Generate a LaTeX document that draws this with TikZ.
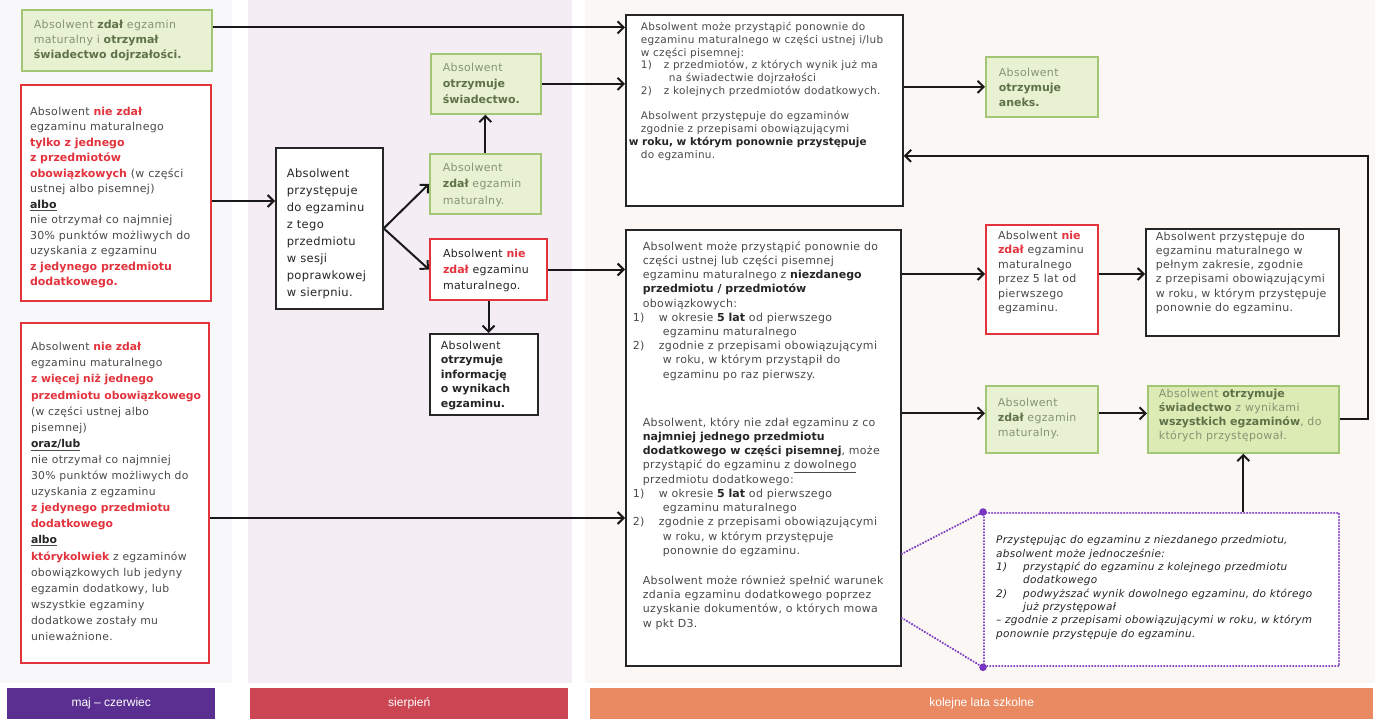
\documentclass[tikz,border=0pt]{standalone}
\usepackage{fontspec}
\setmainfont{DejaVu Sans}[UprightFeatures={LetterSpace=3},ItalicFeatures={LetterSpace=3}]
\newfontfamily\barfont{Liberation Sans}
\usetikzlibrary{arrows.meta}

\definecolor{gfill}{HTML}{E8F2D2}
\definecolor{gfillB}{HTML}{DCEBB4}
\definecolor{gborder}{HTML}{A2C576}
\definecolor{rborder}{HTML}{E3343E}
\definecolor{rtext}{HTML}{E3343E}
\definecolor{btext}{HTML}{262626}
\definecolor{ntext}{HTML}{4A4A4A}
\definecolor{gtext}{HTML}{869474}
\definecolor{gbold}{HTML}{5F7148}
\definecolor{purp}{HTML}{7A35C0}
\definecolor{barA}{HTML}{5B2E91}
\definecolor{barB}{HTML}{CB4552}
\definecolor{barC}{HTML}{E98A63}
\definecolor{colA}{HTML}{F8F7F9}
\definecolor{colB}{HTML}{F4EEF4}
\definecolor{colC}{HTML}{FBF7F5}

\newcommand{\fsz}[2]{\fontsize{#1}{#2}\selectfont}
\newcommand{\bt}[5]{\parbox[c][#2pt][t]{#1pt}{\vspace*{#3pt}\hspace*{#4pt}\begin{tabular}[t]{@{}l@{}}#5\end{tabular}}}
\newcommand{\rdx}[1]{{\bfseries\color{rtext}#1}}
\newcommand{\bfx}[1]{{\bfseries\color{btext}#1}}
\newcommand{\gbx}[1]{{\bfseries\color{gbold}#1}}

\tikzset{
 bx/.style={draw, line width=1.7pt, inner sep=0pt, anchor=north west, fill=white, text=ntext},
 blk/.style={bx, draw=black!85},
 rbox/.style={bx, draw=rborder, line width=2pt},
 gbox/.style={bx, draw=gborder, fill=gfill, text=gtext},
 gboxB/.style={gbox, fill=gfillB},
 pbox/.style={bx, draw=purp, line width=2.3pt, dash pattern=on 0.1pt off 2.9pt, line cap=round, text=btext},
 arr/.style={draw=black!90, line width=2pt, -{Straight Barb[length=6pt,width=12pt]}},
 dots/.style={draw=purp, line width=2.3pt, dash pattern=on 0.1pt off 2.9pt, line cap=round},
 barn/.style={anchor=north west, inner sep=0pt, text=white, font=\barfont\fsz{12}{14}},
}

\begin{document}
\begin{tikzpicture}[x=1pt,y=-1pt]
\useasboundingbox (0,0) rectangle (1375,723);
\fill[white] (0,0) rectangle (1375,723);
\fill[colA] (0,0) rectangle (232,683);
\fill[colB] (248,0) rectangle (572,683);
\fill[colC] (585,0) rectangle (1375,683);

% left column
\node[gbox, font=\fsz{11}{15}] (gA) at (21,9) {\bt{190}{61}{8.5}{12}{%
Absolwent \gbx{zdał} egzamin\\
maturalny i \gbx{otrzymał}\\
\gbx{świadectwo dojrzałości.}}};

\node[rbox, font=\fsz{11}{15.5}] (r1) at (20,84) {\bt{190}{216}{19.5}{9}{%
Absolwent \rdx{nie zdał}\\
egzaminu maturalnego\\
\rdx{tylko z jednego}\\
\rdx{z przedmiotów}\\
\rdx{obowiązkowych} (w części\\
ustnej albo pisemnej)\\
\underline{\bfx{albo}}\\
nie otrzymał co najmniej\\
30\% punktów możliwych do\\
uzyskania z egzaminu\\
\rdx{z jedynego przedmiotu}\\
\rdx{dodatkowego.}}};

\node[rbox, font=\fsz{10.8}{16.1}] (r2) at (20,322) {\bt{188}{340}{16.5}{10}{%
Absolwent \rdx{nie zdał}\\
egzaminu maturalnego\\
\rdx{z więcej niż jednego}\\
\rdx{przedmiotu obowiązkowego}\\
(w części ustnej albo\\
pisemnej)\\
\underline{\bfx{oraz/lub}}\\
nie otrzymał co najmniej\\
30\% punktów możliwych do\\
uzyskania z egzaminu\\
\rdx{z jedynego przedmiotu}\\
\rdx{dodatkowego}\\
\underline{\bfx{albo}}\\
\rdx{którykolwiek} z egzaminów\\
obowiązkowych lub jedyny\\
egzamin dodatkowy, lub\\
wszystkie egzaminy\\
dodatkowe zostały mu\\
unieważnione.}};

% middle column
\node[blk, font=\fsz{11.5}{17}, text=btext] (mP) at (275,147) {\bt{107}{161}{17.5}{11}{%
Absolwent\\ przystępuje\\ do egzaminu\\ z tego\\ przedmiotu\\ w sesji\\ poprawkowej\\ w sierpniu.}};

\node[gbox, font=\fsz{11}{16}] (gS) at (430,53) {\bt{110}{60}{6}{12}{%
Absolwent\\ \gbx{otrzymuje}\\ \gbx{świadectwo.}}};

\node[gbox, font=\fsz{11}{16.5}] (gZ) at (429,153) {\bt{111}{60}{6}{13}{%
Absolwent\\ \gbx{zdał} egzamin\\ maturalny.}};

\node[rbox, font=\fsz{11}{16}, text=btext] (rN) at (429,238) {\bt{117}{61}{7}{13}{%
Absolwent \rdx{nie}\\ \rdx{zdał} egzaminu\\ maturalnego.}};

\node[blk, font=\fsz{11}{14.5}, text=btext] (bI) at (429,333) {\bt{108}{81}{5}{11}{%
Absolwent\\ \bfx{otrzymuje}\\ \bfx{informację}\\ \bfx{o wynikach}\\ \bfx{egzaminu.}}};

% centre column
\node[blk, font=\fsz{10.5}{12.7}] (cT) at (625,14) {\bt{277}{191}{7}{15}{%
Absolwent może przystąpić ponownie do\\
egzaminu maturalnego w części ustnej i/lub\\
w części pisemnej:\\
\makebox[23pt][l]{1)}z przedmiotów, z których wynik już ma\\
\hspace*{28pt}na świadectwie dojrzałości\\
\makebox[23pt][l]{2)}z kolejnych przedmiotów dodatkowych.\\[13pt]
Absolwent przystępuje do egzaminów\\
zgodnie z przepisami obowiązującymi\\
\hspace*{-12pt}\bfx{w roku, w którym ponownie przystępuje}\\
do egzaminu.}};

\node[blk, font=\fsz{11}{14.2}] (cM) at (625,229) {\bt{275}{436}{10.6}{17}{%
Absolwent może przystąpić ponownie do\\
części ustnej lub części pisemnej\\
egzaminu maturalnego z \bfx{niezdanego}\\
\bfx{przedmiotu / przedmiotów}\\
obowiązkowych:\\
\hspace*{-10pt}\makebox[26pt][l]{1)}w okresie \bfx{5 lat} od pierwszego\\
\hspace*{20pt}egzaminu maturalnego\\
\hspace*{-10pt}\makebox[26pt][l]{2)}zgodnie z przepisami obowiązującymi\\
\hspace*{20pt}w roku, w którym przystąpił do\\
\hspace*{20pt}egzaminu po raz pierwszy.\\[34pt]
Absolwent, który nie zdał egzaminu z co\\
\bfx{najmniej jednego przedmiotu}\\
\bfx{dodatkowego w części pisemnej}, może\\
przystąpić do egzaminu z \underline{dowolnego}\\
przedmiotu dodatkowego:\\
\hspace*{-10pt}\makebox[26pt][l]{1)}w okresie \bfx{5 lat} od pierwszego\\
\hspace*{20pt}egzaminu maturalnego\\
\hspace*{-10pt}\makebox[26pt][l]{2)}zgodnie z przepisami obowiązującymi\\
\hspace*{20pt}w roku, w którym przystępuje\\
\hspace*{20pt}ponownie do egzaminu.\\[16pt]
Absolwent może również spełnić warunek\\
zdania egzaminu dodatkowego poprzez\\
uzyskanie dokumentów, o których mowa\\
w pkt D3.}};

% right column
\node[gbox, font=\fsz{11}{15}] (gAn) at (985,56) {\bt{112}{60}{9}{13}{%
Absolwent\\ \gbx{otrzymuje}\\ \gbx{aneks.}}};

\node[rbox, font=\fsz{11}{14.4}] (rR) at (985,224) {\bt{112}{109}{4.4}{12}{%
Absolwent \rdx{nie}\\ \rdx{zdał} egzaminu\\ maturalnego\\ przez 5 lat od\\ pierwszego\\ egzaminu.}};

\node[blk, font=\fsz{11}{14.2}] (bR) at (1145,228) {\bt{193}{107}{1.5}{10}{%
Absolwent przystępuje do\\
egzaminu maturalnego w\\
pełnym zakresie, zgodnie\\
z przepisami obowiązującymi\\
w roku, w którym przystępuje\\
ponownie do egzaminu.}};

\node[gbox, font=\fsz{11}{15}] (gZ2) at (985,385) {\bt{112}{67}{10}{12}{%
Absolwent\\ \gbx{zdał} egzamin\\ maturalny.}};

\node[gboxB, font=\fsz{11}{14}] (gW) at (1147,385) {\bt{191}{67}{1.5}{11}{%
Absolwent \gbx{otrzymuje}\\
\gbx{świadectwo} z wynikami\\
\gbx{wszystkich egzaminów}, do\\
których przystępował.}};

\node[pbox, font=\fsz{10.5}{13.3}\itshape] (pD) at (983,512) {\bt{355}{153}{21.5}{12}{%
Przystępując do egzaminu z niezdanego przedmiotu,\\
absolwent może jednocześnie:\\
\makebox[27pt][l]{1)}przystąpić do egzaminu z kolejnego przedmiotu\\
\hspace*{27pt}dodatkowego\\
\makebox[27pt][l]{2)}podwyższać wynik dowolnego egzaminu, do którego\\
\hspace*{27pt}już przystępował\\
– zgodnie z przepisami obowiązującymi w roku, w którym\\
ponownie przystępuje do egzaminu.}};

% bottom bars
\node[barn, fill=barA, minimum width=208pt, minimum height=31pt] (bar1) at (7,688) {maj – czerwiec};
\node[barn, fill=barB, minimum width=318pt, minimum height=31pt] (bar2) at (250,688) {sierpień};
\node[barn, fill=barC, minimum width=783pt, minimum height=31pt] (bar3) at (590,688) {kolejne lata szkolne};

% connectors
\coordinate (a1) at ([yshift=13pt]gA.east);
\draw[arr] (a1) -- (a1 -| cT.west);
\coordinate (a2) at ([yshift=-8pt]r1.east);
\draw[arr] (a2) -- (a2 -| mP.west);
\coordinate (a3) at ([yshift=-25pt]r2.east);
\draw[arr] (a3) -- (a3 -| cM.west);
\draw[arr] (mP.east) -- (gZ.west);
\draw[arr] (mP.east) -- (rN.west);
\draw[arr] (gZ.north) -- (gZ.north |- gS.south);
\draw[arr] (rN.south) -- (rN.south |- bI.north);
\draw[arr] (gS.east) -- (gS.east -| cT.west);
\draw[arr] (rN.east) -- (rN.east -| cM.west);
\draw[arr] (gAn.west -| cT.east) -- (gAn.west);
\coordinate (a10) at ([yshift=5.5pt]rR.west);
\draw[arr] (a10 -| cM.east) -- (a10);
\draw[arr] (a10 -| rR.east) -- (a10 -| bR.west);
\coordinate (a11) at ([yshift=6pt]gZ2.west);
\draw[arr] (a11 -| cM.east) -- (a11);
\draw[arr] (a11 -| gZ2.east) -- (a11 -| gW.west);
\coordinate (c155) at ([yshift=-45.5pt]cT.east);
\draw[arr] (gW.east) -- ++(28,0) |- (c155);
\draw[arr] (pD.north -| gW.south) -- (gW.south);
\coordinate (d1) at ([yshift=-106pt]cM.east);
\coordinate (d2) at ([yshift=-170pt]cM.east);
\draw[dots] (d1) -- (pD.north west);
\draw[dots] (d2) -- (pD.south west);
\fill[purp] (pD.north west) circle (3.8pt);
\fill[purp] (pD.south west) circle (3.8pt);
\end{tikzpicture}
\end{document}
